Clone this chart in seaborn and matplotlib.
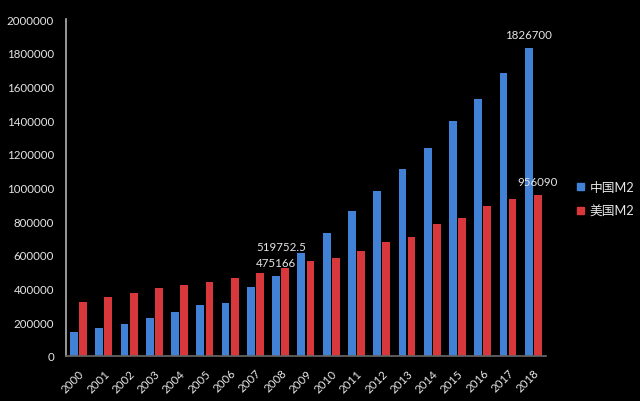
import pandas as pd
import seaborn as sns
import matplotlib.pyplot as plt

years = [str(y) for y in range(2000, 2019)]
china_m2 = [140000, 164000, 190000, 227000, 259000, 303000, 315000, 408000,
            475166, 611000, 730000, 858000, 978000, 1110000, 1232000,
            1395000, 1527000, 1682000, 1826700]
us_m2 = [322000, 352000, 374000, 402000, 421000, 441000, 461000, 493000,
         519752.5, 564000, 580000, 621000, 675000, 704000, 785000, 821000,
         892000, 932000, 956090]
series_names = ["中国M2", "美国M2"]
colors = ["#4282d6", "#d8383c"]
yticks = list(range(0, 2000001, 200000))

df = pd.DataFrame({
    "年份": years * 2,
    "M2": china_m2 + us_m2,
    "系列": [series_names[0]] * len(years) + [series_names[1]] * len(years),
})

sns.set_theme(style="dark")
plt.rcParams["font.family"] = ["Lato", "Noto Sans CJK SC", "DejaVu Sans"]
txt = "#e6e6e6"
fs = 8.3

fig = plt.figure(figsize=(6.4, 4.02), dpi=100, facecolor="black")
ax = fig.add_axes([0.103, 0.112, 0.750, 0.838], facecolor="black")

sns.barplot(data=df, x="年份", y="M2", hue="系列", palette=colors,
            width=0.72, gap=0.14, ax=ax, saturation=1, linewidth=0)

ax.set_ylim(0, 2000000)
ax.set_xlim(-0.5, len(years) - 0.5)
ax.set_yticks(yticks)
ax.set_yticklabels([str(v) for v in yticks], color=txt, fontsize=fs)
ax.tick_params(axis="y", length=3, color="#999999", pad=5.5)
ax.set_xticks(range(len(years)))
ax.set_xticklabels(years, rotation=45, ha="right", rotation_mode="anchor",
                   color=txt, fontsize=fs)
ax.tick_params(axis="x", length=0, pad=8)
ax.set_xticks([i - 0.5 for i in range(len(years) + 1)], minor=True)
ax.tick_params(axis="x", which="minor", length=4, color="#777777")
ax.set_xlabel("")
ax.set_ylabel("")
ax.grid(False)
for side in ["top", "right"]:
    ax.spines[side].set_visible(False)
ax.spines["left"].set_color("#aaaaaa")
ax.spines["bottom"].set_color("#666666")

# data labels
blue_bars, red_bars = ax.containers[0], ax.containers[1]
b = blue_bars[-1]
ax.annotate(f"{china_m2[-1]}", (b.get_x() + b.get_width() / 2, china_m2[-1]),
            xytext=(0, 6), textcoords="offset points", ha="center", va="bottom",
            color=txt, fontsize=fs)
r = red_bars[-1]
ax.annotate(f"{us_m2[-1]}", (r.get_x() + r.get_width() / 2, us_m2[-1]),
            xytext=(0, 6), textcoords="offset points", ha="center", va="bottom",
            color=txt, fontsize=fs)
b = blue_bars[8]
ax.annotate(f"{china_m2[8]}", (b.get_x(), china_m2[8]),
            xytext=(-11.5, 6), textcoords="offset points", ha="left", va="bottom",
            color=txt, fontsize=fs)
ax.annotate(f"{us_m2[8]}", (b.get_x(), us_m2[8]),
            xytext=(-11.5, 11.5), textcoords="offset points", ha="left", va="bottom",
            color=txt, fontsize=fs)

ax.get_legend().remove()
handles = [plt.Rectangle((0, 0), 1, 1, color=c) for c in colors]
fig.legend(handles, series_names, loc="center left", bbox_to_anchor=(0.902, 0.503),
           frameon=False, fontsize=9.2, labelcolor=txt, handlelength=0.5,
           handleheight=0.5, handletextpad=0.45, labelspacing=0.95,
           borderpad=0, borderaxespad=0)

fig.savefig("out.png", dpi=100, facecolor="black")
